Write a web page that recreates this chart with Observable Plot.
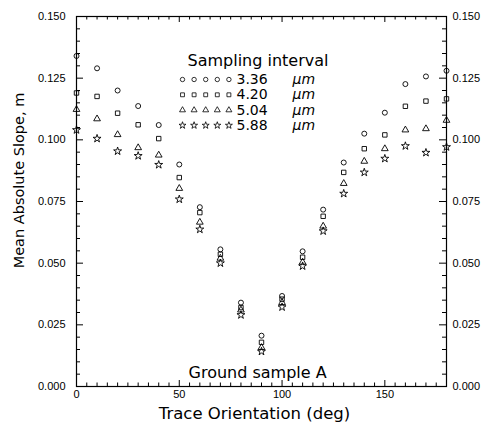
<!DOCTYPE html>
<html><head><meta charset="utf-8">
<script src="https://cdn.jsdelivr.net/npm/d3@7"></script>
<script src="https://cdn.jsdelivr.net/npm/@observablehq/plot@0.6"></script>
<style>
body{margin:0;background:#fff;}
#chart svg{display:block;}
</style></head><body><div id="chart"></div>
<script>
// ---- data ----
const angles = [0,10,20,30,40,50,60,70,80,90,100,110,120,130,140,150,160,170,180];
const s336 = [0.134,0.129,0.120,0.1137,0.106,0.090,0.0727,0.0556,0.034,0.0206,0.0367,0.0548,0.0717,0.0908,0.1025,0.111,0.1226,0.1257,0.128];
const s420 = [0.119,0.1176,0.1108,0.1061,0.1005,0.0847,0.0705,0.0536,0.032,0.0179,0.0354,0.0524,0.069,0.0868,0.0964,0.102,0.1136,0.1157,0.1166];
const s504 = [0.1123,0.1085,0.1021,0.0968,0.0938,0.0803,0.0666,0.052,0.031,0.0158,0.034,0.0504,0.065,0.0823,0.0913,0.0964,0.104,0.1045,0.1079];
const s588 = [0.104,0.1005,0.0954,0.0935,0.0899,0.0759,0.0637,0.050,0.029,0.0142,0.0322,0.0488,0.063,0.0782,0.0868,0.0924,0.0975,0.0948,0.0971];
const seriesLabels = ["3.36","4.20","5.04","5.88"];
const seriesSymbols = ["circle","square","triangle","star"];
const yTicks = [0,0.025,0.05,0.075,0.1,0.125,0.15];
const yMinor = [0.005,0.01,0.015,0.02,0.03,0.035,0.04,0.045,0.055,0.06,0.065,0.07,0.08,0.085,0.09,0.095,0.105,0.11,0.115,0.12,0.13,0.135,0.14,0.145];
const xTicks = [0,50,100,150];
const xMinor = [5,10,15,20,25,30,35,40,45,55,60,65,70,75,80,85,90,95,105,110,115,120,125,130,135,140,145,155,160,165,170,175];
const xTitle = "Trace Orientation (deg)";
const yTitle = "Mean Absolute Slope, m";
const legendTitle = "Sampling interval";
const unit = "\u03bcm";
const note = "Ground sample A";

const seriesValues = [s336, s420, s504, s588];
const rows = angles.flatMap((a, i) => seriesValues.map((vals, k) => ({angle: a, slope: vals[i], series: seriesLabels[k]})));

const W = 492, H = 425, ML = 76, MR = 46, MT = 16, MB = 39;
const FW = W - ML - MR, FH = H - MT - MB;
const tickFont = "Liberation Sans, Arial, sans-serif";
const titleFont = "DejaVu Sans, sans-serif";
const fmt = d3.format(".3f");

const legendMarks = [];
seriesLabels.forEach((lab, i) => {
  const rowDy = 63 + i * 15.3;
  for (let j = 0; j < 5; j++) {
    legendMarks.push(Plot.dot([0], {frameAnchor: "top-left", dx: 106 + j * 11.6, dy: rowDy, symbol: seriesSymbols[i], r: 2.2, stroke: "black", fill: "none", strokeWidth: 0.8}));
  }
  legendMarks.push(Plot.text([lab], {frameAnchor: "top-left", dx: 160, dy: rowDy, textAnchor: "start", lineAnchor: "middle", fontSize: 14, fontFamily: titleFont, fill: "black", style: "letter-spacing:2.4px"}));
  legendMarks.push(Plot.text([unit], {frameAnchor: "top-left", dx: 216, dy: rowDy, textAnchor: "start", lineAnchor: "middle", fontSize: 14, fontStyle: "italic", fontFamily: titleFont, fill: "black", style: "letter-spacing:0.5px"}));
});

const chart = Plot.plot({
  width: W,
  height: H,
  marginLeft: ML,
  marginRight: MR,
  marginTop: MT,
  marginBottom: MB,
  style: {background: "white", color: "black", fontFamily: tickFont},
  x: {domain: [0, 180], axis: null},
  y: {domain: [0, 0.15], axis: null},
  symbol: {domain: seriesLabels, range: seriesSymbols},
  marks: [
    Plot.frame({stroke: "black", strokeWidth: 1.2}),
    // inward ticks
    Plot.tickY(yTicks, {y: d => d, insetRight: FW - 7, stroke: "black"}),
    Plot.tickY(yMinor, {y: d => d, insetRight: FW - 4, stroke: "black"}),
    Plot.tickY(yTicks, {y: d => d, insetLeft: FW - 7, stroke: "black"}),
    Plot.tickY(yMinor, {y: d => d, insetLeft: FW - 4, stroke: "black"}),
    Plot.tickX(xTicks, {x: d => d, insetTop: FH - 6, stroke: "black"}),
    Plot.tickX(xMinor, {x: d => d, insetTop: FH - 3.5, stroke: "black"}),
    Plot.tickX(xTicks, {x: d => d, insetBottom: FH - 6, stroke: "black"}),
    Plot.tickX(xMinor, {x: d => d, insetBottom: FH - 3.5, stroke: "black"}),
    // tick labels
    Plot.axisY(yTicks, {anchor: "left", tickSize: 0, tickPadding: 11, tickFormat: fmt, fontSize: 11, label: null}),
    Plot.axisY(yTicks, {anchor: "right", tickSize: 0, tickPadding: 6, tickFormat: fmt, fontSize: 11, label: null}),
    Plot.axisX(xTicks, {anchor: "bottom", tickSize: 0, tickPadding: 4, fontSize: 11, label: null}),
    // data
    Plot.dot(rows, {x: "angle", y: "slope", symbol: "series", r: 2.5, stroke: "black", fill: "none", strokeWidth: 0.9}),
    // titles
    Plot.text([xTitle], {frameAnchor: "bottom", textAnchor: "middle", dx: -7, dy: 32, lineAnchor: "bottom", fontSize: 16.5, fontFamily: titleFont, fill: "black", style: "letter-spacing:2.7px"}),
    Plot.text([yTitle], {frameAnchor: "left", textAnchor: "middle", rotate: -90, dx: -57, dy: -21, lineAnchor: "middle", fontSize: 14.5, fontFamily: titleFont, fill: "black", style: "letter-spacing:1.3px"}),
    Plot.text([legendTitle], {frameAnchor: "top-left", dx: 111, dy: 49, textAnchor: "start", lineAnchor: "bottom", fontSize: 16, fontFamily: titleFont, fill: "black", style: "letter-spacing:1.5px"}),
    Plot.text([note], {frameAnchor: "bottom-left", dx: 112, dy: -9, textAnchor: "start", lineAnchor: "bottom", fontSize: 16, fontFamily: titleFont, fill: "black", style: "letter-spacing:1.1px"}),
    ...legendMarks
  ]
});
document.getElementById("chart").appendChild(chart);
</script>
</body></html>
